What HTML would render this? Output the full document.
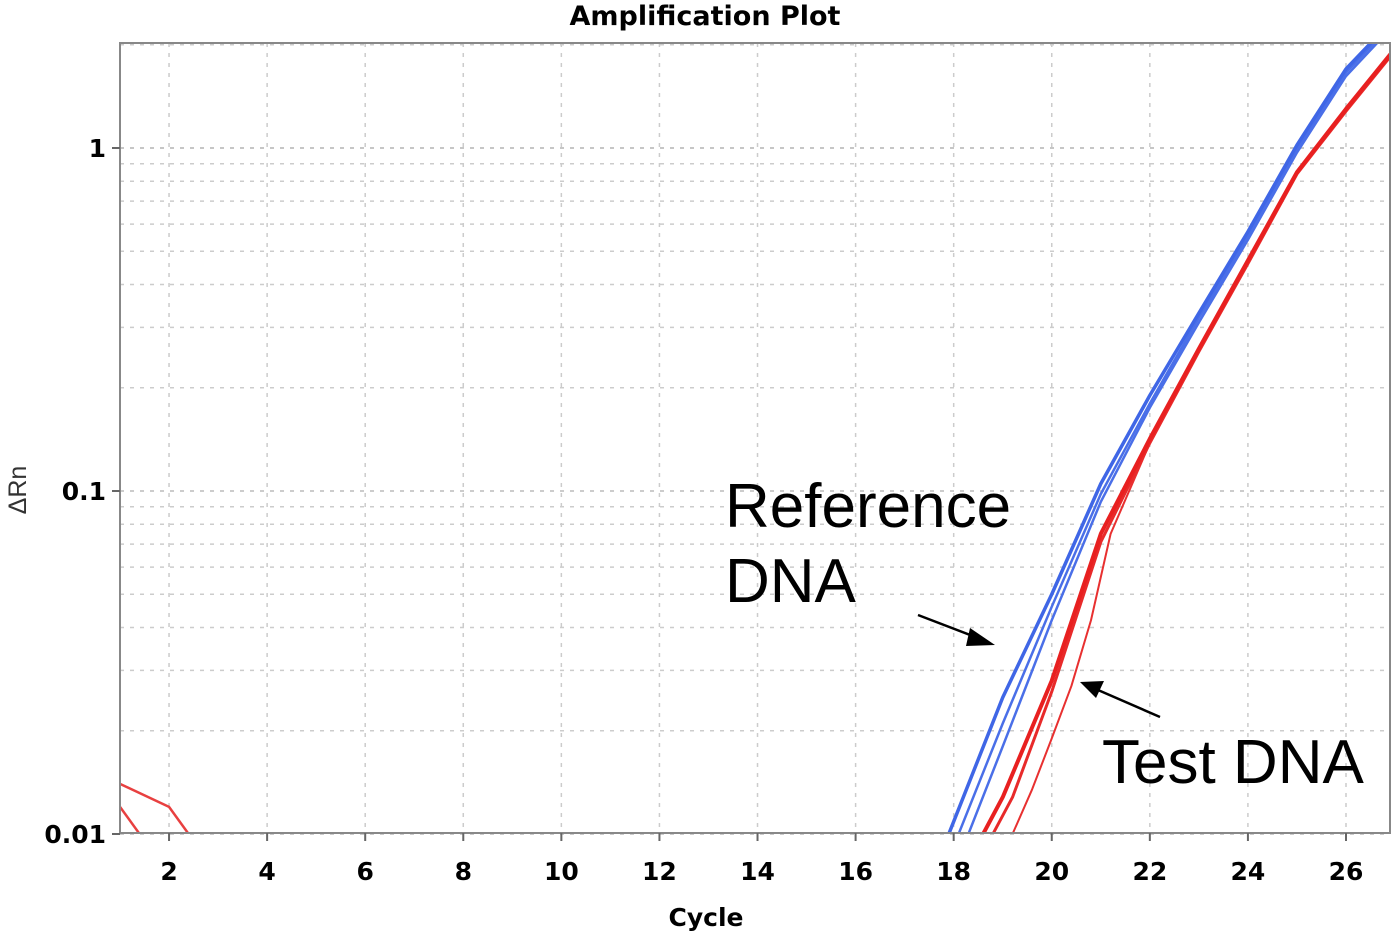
<!DOCTYPE html>
<html><head><meta charset="utf-8"><style>
body{margin:0;background:#fff;}
svg{display:block;font-family:"Liberation Sans",Arial,sans-serif;}
.b{font-family:"DejaVu Sans","Liberation Sans",sans-serif;font-weight:bold;}
</style></head><body>
<svg id="chart" width="1396" height="938" viewBox="0 0 1396 938" xmlns="http://www.w3.org/2000/svg">
<text class="b" x="705" y="25" text-anchor="middle" font-size="27">Amplification Plot</text>
<g id="grid"></g>
<g id="series"></g>
<rect x="120" y="43" width="1270" height="790" fill="none" stroke="#888" stroke-width="2"/>
<g id="ticks"></g>
<text class="b" x="706" y="926" text-anchor="middle" font-size="25">Cycle</text>
<text transform="translate(26,490) rotate(-90)" text-anchor="middle" font-size="25" fill="#333">ΔRn</text>
<text x="725" y="527" font-size="62">Reference</text>
<text x="725" y="602" font-size="62">DNA</text>
<text x="1102" y="783" font-size="62">Test DNA</text>
<g><line x1="918" y1="615" x2="978" y2="638" stroke="#000" stroke-width="2.5"/><polygon points="995,645 970,628 966,646" fill="#000"/></g>
<g><line x1="1160" y1="717" x2="1098" y2="690" stroke="#000" stroke-width="2.5"/><polygon points="1080,682 1104,681 1096,698" fill="#000"/></g>
</svg>
<script>
const xTicks=[2,4,6,8,10,12,14,16,18,20,22,24,26];
const yTicks=[0.01,0.1,1];
const yTickLabels=["0.01","0.1","1"];
const blueCycles1=[17.9,19,20,21,22,23,24,25,26,27];
const blue1=[0.01,0.025,0.05,0.105,0.19,0.33,0.57,1.02,1.7,2.4];
const blueCycles2=[18.1,19,20,21,22,23,24,25,26,27];
const blue2=[0.01,0.021,0.046,0.098,0.18,0.32,0.55,0.99,1.66,2.35];
const blueCycles3=[18.3,19,20,21,22,23,24,25,26,27];
const blue3=[0.01,0.018,0.042,0.093,0.175,0.31,0.54,0.97,1.62,2.3];
const redCycles1=[18.6,19,20,21,22,23,24,25,26,27];
const red1=[0.01,0.0128,0.028,0.075,0.142,0.26,0.47,0.85,1.3,1.95];
const redCycles2=[18.8,19.2,20,21,22,23,24,25,26,27];
const red2=[0.01,0.0128,0.026,0.071,0.138,0.255,0.46,0.84,1.28,1.92];
const redThinCycles=[19.2,19.6,20,20.4,20.8,21.2,22];
const redThin=[0.01,0.0135,0.019,0.027,0.042,0.075,0.138];
const earlyCycles=[1,2,2.4];
const early1=[0.014,0.012,0.01];
const earlyCycles2=[1,1.4];
const early2=[0.012,0.01];
const X=c=>120+(c-1)*49.04;
const Y=v=>148-Math.log10(v)*343;
const NS="http://www.w3.org/2000/svg";
const grid=document.getElementById('grid'),ticks=document.getElementById('ticks'),ser=document.getElementById('series');
function mk(t,a,p){const e=document.createElementNS(NS,t);for(const k in a)e.setAttribute(k,a[k]);p.appendChild(e);return e;}
xTicks.forEach(c=>{
  const g=mk('line',{x1:X(c),x2:X(c),y1:43,y2:833,stroke:'#ccc','stroke-dasharray':'4 6','stroke-width':1.5},grid);
  
  
  const tk=mk('line',{x1:X(c),x2:X(c),y1:833,y2:841,stroke:'#666','stroke-width':2},ticks);
  
  
  const t=mk('text',{x:X(c),y:880,'text-anchor':'middle','font-size':25,'class':'b'},ticks);
  t.textContent=c;
  
  
});
[0.01,0.1].forEach(d=>{for(let m=2;m<=9;m++){const v=d*m;
  const g=mk('line',{x1:120,x2:1390,y1:Y(v),y2:Y(v),stroke:'#ccc','stroke-dasharray':'4 6','stroke-width':1.5},grid);
  
  }});
[1,2].forEach(v=>{const g=mk('line',{x1:120,x2:1390,y1:Y(v),y2:Y(v),stroke:'#ccc','stroke-dasharray':'4 6','stroke-width':1.5},grid);
  
  });
yTicks.forEach((v,i)=>{
  const g=mk('line',{x1:120,x2:1390,y1:Y(v),y2:Y(v),stroke:'#bbb','stroke-dasharray':'4 6','stroke-width':1.5},grid);
  
  
  const tk=mk('line',{x1:112,x2:120,y1:Y(v),y2:Y(v),stroke:'#666','stroke-width':2},ticks);
  
  
  const t=mk('text',{x:106,y:Y(v)+9,'text-anchor':'end','font-size':25,'class':'b'},ticks);
  t.textContent=yTickLabels[i];
  
  
});
function line(cs,vs,col,w,name){
  const pts=cs.map((c,i)=>X(c)+','+Y(vs[i])).join(' ');
  const p=mk('polyline',{points:pts,fill:'none',stroke:col,'stroke-width':w,'stroke-linejoin':'round'},ser);
  
  
}
const cl=document.createElementNS(NS,'clipPath');cl.id='pc';mk('rect',{x:120,y:43,width:1270,height:790},cl);document.getElementById('chart').appendChild(cl);
ser.setAttribute('clip-path','url(#pc)');
line(blueCycles3,blue3,'#4a6fe8',2.5,'reference-dna-curve-3');
line(blueCycles2,blue2,'#4a6fe8',2.5,'reference-dna-curve-2');
line(blueCycles1,blue1,'#3f66e6',3.5,'reference-dna-curve-1');
line(redThinCycles,redThin,'#e83030',2,'test-dna-curve-3');
line(redCycles2,red2,'#e82a2a',3,'test-dna-curve-2');
line(redCycles1,red1,'#e82020',4,'test-dna-curve-1');
line(earlyCycles,early1,'#e84040',2.5,'early-noise-curve-1');
line(earlyCycles2,early2,'#e84040',2.5,'early-noise-curve-2');
</script>
</body></html>
